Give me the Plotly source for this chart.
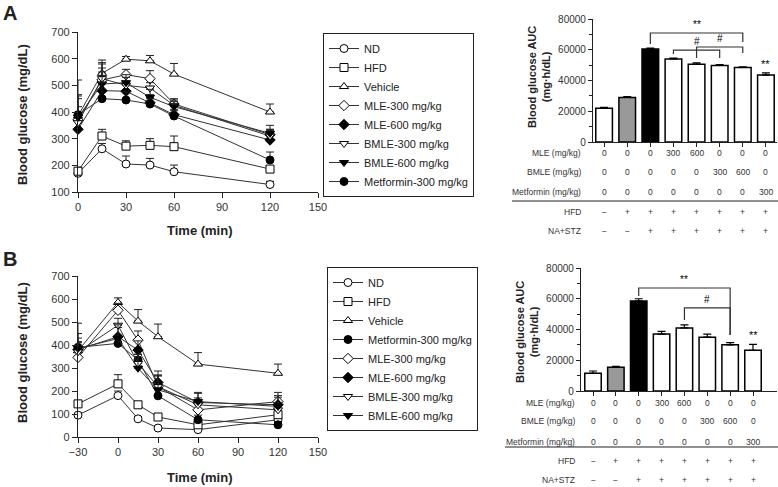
import plotly.graph_objects as go

W, H = 778, 487
FONT = "Liberation Sans, Arial, sans-serif"

# ---- panel A: OGTT time course ----
time_a = [0, 15, 30, 45, 60, 120]
nd_a = [170, 262, 205, 201, 176, 128]
hfd_a = [178, 310, 272, 275, 270, 186]
vehicle_a = [385, 545, 598, 592, 542, 400]
mle300_a = [370, 520, 540, 525, 430, 315]
mle600_a = [335, 480, 478, 435, 390, 295]
bmle300_a = [360, 525, 500, 490, 425, 310]
bmle600_a = [380, 505, 510, 455, 420, 320]
met_a = [390, 450, 445, 430, 385, 220]

nd_a_err = [15, 20, 30, 25, 25, 12]
hfd_a_err = [15, 25, 20, 25, 40, 10]
vehicle_a_err = [80, 50, 10, 20, 40, 30]
mle300_a_err = [150, 60, 20, 30, 20, 20]
mle600_a_err = [30, 70, 30, 30, 20, 40]
bmle300_a_err = [60, 40, 30, 20, 20, 20]
bmle600_a_err = [70, 80, 30, 30, 20, 30]
met_a_err = [70, 60, 30, 20, 20, 30]

# ---- panel B: OGTT time course ----
time_b = [-30, 0, 15, 30, 60, 120]
nd_b = [95, 180, 79, 39, 32, 75]
hfd_b = [144, 231, 140, 87, 53, 97]
vehicle_b = [375, 585, 504, 436, 317, 277]
met_b = [390, 407, 335, 179, 75, 53]
mle300_b = [346, 551, 421, 219, 118, 154]
mle600_b = [380, 436, 378, 237, 150, 140]
bmle300_b = [370, 486, 320, 219, 140, 118]
bmle600_b = [385, 428, 299, 205, 154, 133]

nd_b_err = [10, 20, 10, 8, 8, 10]
hfd_b_err = [10, 40, 10, 10, 10, 10]
vehicle_b_err = [40, 20, 50, 55, 50, 40]
met_b_err = [40, 30, 40, 60, 20, 10]
mle300_b_err = [20, 30, 40, 50, 40, 40]
mle600_b_err = [30, 40, 40, 50, 40, 40]
bmle300_b_err = [80, 30, 40, 50, 30, 30]
bmle600_b_err = [110, 60, 60, 60, 40, 40]

# ---- AUC bars ----
auc_a = [22000, 29000, 60500, 54000, 50500, 49800, 48500, 43500]
auc_a_err = [500, 500, 500, 600, 1000, 500, 300, 1500]
auc_b = [11500, 15500, 58500, 37000, 41000, 35000, 30000, 26500]
auc_b_err = [1500, 500, 1500, 1800, 2000, 2000, 1500, 3800]
bar_fill = ["white", "#999999", "black", "white", "white", "white", "white", "white"]

mle_dose = ["0", "0", "0", "300", "600", "0", "0", "0"]
bmle_dose = ["0", "0", "0", "0", "0", "300", "600", "0"]
met_dose = ["0", "0", "0", "0", "0", "0", "0", "300"]
hfd_sign = ["−", "+", "+", "+", "+", "+", "+", "+"]
stz_sign = ["−", "−", "+", "+", "+", "+", "+", "+"]
row_labels = ["MLE (mg/kg)", "BMLE (mg/kg)", "Metformin (mg/kg)", "HFD", "NA+STZ"]

# comparisons: (from bar, to bar, top, left end, right end, label)
brackets_a = [
    (2, 6, 70900, 63700, 65000, "**"),
    (3, 5, 59800, 57200, 54600, "#"),
    (4, 6, 61800, 54600, 57900, "#"),
]
brackets_b = [
    (2, 6, 67000, 61800, 36400, "**"),
    (4, 6, 54000, 46200, 36400, "#"),
]

styles = {
    "ND": ("circle", "white"),
    "HFD": ("square", "white"),
    "Vehicle": ("triangle-up", "white"),
    "MLE-300 mg/kg": ("diamond", "white"),
    "MLE-600 mg/kg": ("diamond", "black"),
    "BMLE-300 mg/kg": ("triangle-down", "white"),
    "BMLE-600 mg/kg": ("triangle-down", "black"),
    "Metformin-300 mg/kg": ("circle", "black"),
}


def px_x(x):
    return x / W


def px_y(y):
    return 1 - y / H


fig = go.Figure()

series_a = [
    ("ND", nd_a, nd_a_err), ("HFD", hfd_a, hfd_a_err), ("Vehicle", vehicle_a, vehicle_a_err),
    ("MLE-300 mg/kg", mle300_a, mle300_a_err), ("MLE-600 mg/kg", mle600_a, mle600_a_err),
    ("BMLE-300 mg/kg", bmle300_a, bmle300_a_err), ("BMLE-600 mg/kg", bmle600_a, bmle600_a_err),
    ("Metformin-300 mg/kg", met_a, met_a_err),
]
series_b = [
    ("ND", nd_b, nd_b_err), ("HFD", hfd_b, hfd_b_err), ("Vehicle", vehicle_b, vehicle_b_err),
    ("Metformin-300 mg/kg", met_b, met_b_err), ("MLE-300 mg/kg", mle300_b, mle300_b_err),
    ("MLE-600 mg/kg", mle600_b, mle600_b_err), ("BMLE-300 mg/kg", bmle300_b, bmle300_b_err),
    ("BMLE-600 mg/kg", bmle600_b, bmle600_b_err),
]

for times, series, xa, ya, leg in [
    (time_a, series_a, "x", "y", "legend"),
    (time_b, series_b, "x2", "y2", "legend2"),
]:
    for name, vals, errs in series:
        symbol, fill = styles[name]
        fig.add_trace(
            go.Scatter(
                x=times,
                y=vals,
                name=name,
                mode="lines+markers",
                xaxis=xa,
                yaxis=ya,
                legend=leg,
                cliponaxis=False,
                line={"color": "#333333", "width": 1},
                marker={"symbol": symbol, "size": 8, "color": fill,
                        "line": {"color": "black", "width": 1}},
                error_y={"type": "data", "array": errs, "symmetric": False,
                         "arrayminus": [0] * len(errs), "color": "#222222",
                         "thickness": 1, "width": 4},
            )
        )

for vals, errs, xa, ya in [(auc_a, auc_a_err, "x3", "y3"), (auc_b, auc_b_err, "x4", "y4")]:
    fig.add_trace(
        go.Bar(
            x=list(range(len(vals))),
            y=vals,
            width=0.72,
            xaxis=xa,
            yaxis=ya,
            showlegend=False,
            marker={"color": bar_fill, "line": {"color": "black", "width": 1.5}},
            error_y={"type": "data", "array": errs, "symmetric": False,
                     "arrayminus": [0] * len(errs), "color": "black",
                     "thickness": 1.2, "width": 4},
        )
    )

axis_common = dict(
    showline=True, linecolor="#222222", linewidth=1.2, ticks="outside", ticklen=5,
    tickcolor="#222222", tickwidth=1, showgrid=False, zeroline=False, automargin=False,
    tickfont={"size": 11, "color": "#333333", "family": FONT},
)
bar_y_common = dict(
    axis_common, range=[0, 80000], tickvals=[0, 20000, 40000, 60000, 80000],
    tickformat="d", ticklen=4, tickfont={"size": 10, "color": "#333333", "family": FONT},
    minor={"dtick": 10000, "ticks": "outside", "ticklen": 3, "tickcolor": "#222222"},
)
bar_x_common = dict(axis_common, showticklabels=False, tickvals=list(range(8)), ticklen=4)

fig.update_layout(
    template="none",
    width=W,
    height=H,
    margin={"l": 0, "r": 0, "t": 0, "b": 0, "pad": 0},
    paper_bgcolor="white",
    plot_bgcolor="white",
    font={"family": FONT, "color": "#222222"},
    xaxis=dict(axis_common, domain=[px_x(78), px_x(318)], range=[0, 150],
               tickvals=[0, 30, 60, 90, 120, 150], anchor="y"),
    yaxis=dict(axis_common, domain=[px_y(192), px_y(32)], range=[100, 700],
               dtick=100, anchor="x"),
    xaxis2=dict(axis_common, domain=[px_x(78), px_x(318)], range=[-30, 150],
                tickvals=[-30, 0, 30, 60, 90, 120, 150], anchor="y2"),
    yaxis2=dict(axis_common, domain=[px_y(437), px_y(276)], range=[0, 700],
                dtick=100, anchor="x2"),
    xaxis3=dict(bar_x_common, domain=[px_x(593), px_x(777)], range=[-0.48, 7.48], anchor="y3"),
    yaxis3=dict(bar_y_common, domain=[px_y(142), px_y(19)], anchor="x3"),
    xaxis4=dict(bar_x_common, domain=[px_x(581), px_x(777)], range=[-0.525, 8.05], anchor="y4"),
    yaxis4=dict(bar_y_common, domain=[px_y(391), px_y(268)], anchor="x4"),
    legend=dict(x=px_x(323), y=px_y(33), xanchor="left", yanchor="top",
                bordercolor="#222222", borderwidth=1, bgcolor="white",
                font={"size": 11, "family": FONT, "color": "#222222"},
                itemwidth=30, traceorder="normal"),
    legend2=dict(x=px_x(327), y=px_y(267), xanchor="left", yanchor="top",
                 bordercolor="#222222", borderwidth=1, bgcolor="white",
                 font={"size": 11, "family": FONT, "color": "#222222"},
                 itemwidth=30, traceorder="normal"),
)

ann = []
shapes = []

# panel letters and axis titles
ann.append(dict(text="<b>A</b>", x=px_x(1), y=px_y(0), xanchor="left", yanchor="top",
                font={"size": 20}))
ann.append(dict(text="<b>B</b>", x=px_x(1), y=px_y(246), xanchor="left", yanchor="top",
                font={"size": 20}))
for cy in (115, 353):
    ann.append(dict(text="<b>Blood glucose (mg/dL)</b>", x=px_x(22), y=px_y(cy),
                    textangle=-90, font={"size": 13}))
for cy in (230, 477):
    ann.append(dict(text="<b>Time (min)</b>", x=px_x(200), y=px_y(cy), font={"size": 13}))
for cx, cy in ((539, 77), (527, 332)):
    ann.append(dict(text="<b>Blood glucose AUC<br>(mg·h/dL)</b>", x=px_x(cx), y=px_y(cy),
                    textangle=-90, font={"size": 11}))

# treatment tables under the bar charts
rows = [mle_dose, bmle_dose, met_dose, hfd_sign, stz_sign]
for xa, label_right, row_y, line_left, line_y in [
    ("x3", 583, [153, 172, 192, 212, 231], 512, 201),
    ("x4", 577, [403, 421, 442, 461, 480], 505, 447),
]:
    for label, row, ry in zip(row_labels, rows, row_y):
        ann.append(dict(text=label, x=px_x(label_right), y=px_y(ry), xanchor="right",
                        font={"size": 8.5, "color": "#333333"}))
        for i, v in enumerate(row):
            ann.append(dict(text=v, x=i, xref=xa, y=px_y(ry), font={"size": 8.5, "color": "#333333"}))
    shapes.append(dict(type="line", xref="paper", yref="paper", x0=px_x(line_left), x1=1,
                       y0=px_y(line_y), y1=px_y(line_y), line={"color": "#222222", "width": 1.2}))

# significance brackets
for xa, ya, brackets in [("x3", "y3", brackets_a), ("x4", "y4", brackets_b)]:
    for i0, i1, top, left_end, right_end, label in brackets:
        shapes.append(dict(type="path", xref=xa, yref=ya,
                           path=f"M {i0},{left_end} L {i0},{top} L {i1},{top} L {i1},{right_end}",
                           line={"color": "#333333", "width": 1.2}))
        ann.append(dict(text=label, x=(i0 + i1) / 2, xref=xa, y=top, yref=ya,
                        yanchor="bottom", yshift=1, font={"size": 10, "color": "black"}))

# ** over metformin bar
for xa, ya, vals, errs in [("x3", "y3", auc_a, auc_a_err), ("x4", "y4", auc_b, auc_b_err)]:
    ann.append(dict(text="**", x=7, xref=xa, y=vals[7] + errs[7], yref=ya,
                    yanchor="bottom", yshift=1, font={"size": 11, "color": "black"}))

for a in ann:
    a.setdefault("xref", "paper")
    a.setdefault("yref", "paper")
    a.setdefault("xanchor", "center")
    a.setdefault("yanchor", "middle")
    a.setdefault("showarrow", False)
fig.update_layout(annotations=ann, shapes=shapes)

# page body margin would push the figure 8px off the window
fig.write_html("out.html", config={"displayModeBar": False},
               post_script="document.body.style.margin = '0';")
